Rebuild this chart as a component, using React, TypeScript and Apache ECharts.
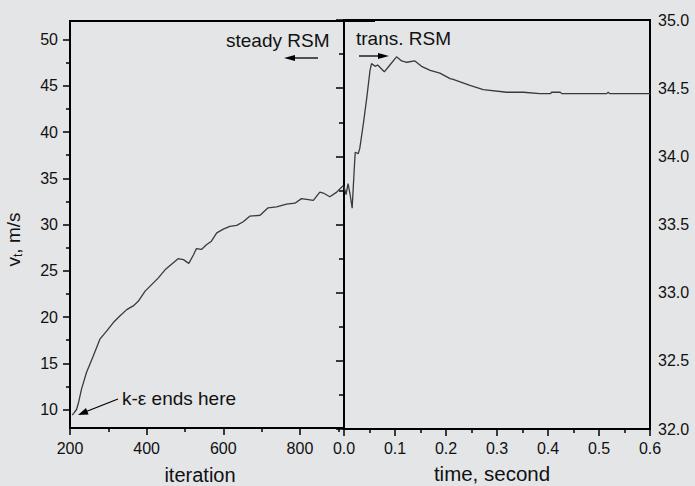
import React, { useEffect, useRef } from "react";
import * as echarts from "echarts";

// Left panel: steady RSM, iterations
const iterLeft = [206, 210, 217, 222, 230, 243, 261, 278, 296, 313, 330, 348, 365, 378, 396, 413, 430, 448, 465, 482, 496, 510, 522, 530, 543, 556, 569, 583, 600, 617, 635, 652, 669, 696, 717, 739, 765, 787, 804, 835, 852, 861, 878, 896, 908, 913];
const vLeft = [9.4, 9.6, 10.0, 10.7, 12.2, 14.0, 15.8, 17.6, 18.5, 19.4, 20.1, 20.8, 21.2, 21.7, 22.8, 23.5, 24.2, 25.1, 25.7, 26.3, 26.2, 25.8, 26.7, 27.4, 27.3, 27.8, 28.2, 29.1, 29.5, 29.8, 29.9, 30.3, 30.9, 31.0, 31.8, 31.9, 32.2, 32.3, 32.8, 32.6, 33.5, 33.4, 33.0, 33.5, 34.0, 34.2];

// Right panel: transient RSM, time in seconds
const tRight = [0, 0.004, 0.008, 0.012, 0.016, 0.02, 0.022, 0.028, 0.031, 0.038, 0.045, 0.051, 0.054, 0.061, 0.066, 0.079, 0.09, 0.103, 0.113, 0.123, 0.139, 0.152, 0.169, 0.188, 0.208, 0.214, 0.247, 0.273, 0.319, 0.352, 0.384, 0.405, 0.407, 0.424, 0.427, 0.515, 0.518, 0.521, 0.6];
const vRight = [33.78, 33.72, 33.8, 33.72, 33.62, 33.9, 34.03, 34.02, 34.06, 34.24, 34.44, 34.63, 34.68, 34.66, 34.67, 34.62, 34.67, 34.73, 34.7, 34.69, 34.7, 34.66, 34.63, 34.61, 34.57, 34.565, 34.52, 34.49, 34.47, 34.47, 34.46, 34.46, 34.47, 34.47, 34.46, 34.46, 34.47, 34.46, 34.46];

// Tick values
const iterMajor = [200, 400, 600, 800];
const iterMinor = [300, 500, 700, 900];
const timeMajor = [0, 0.1, 0.2, 0.3, 0.4, 0.5, 0.6];
const timeMinor = [0.05, 0.15, 0.25, 0.35, 0.45, 0.55];
const vLeftMajor = [10, 15, 20, 25, 30, 35, 40, 45, 50];
const vLeftMinor = [12.5, 17.5, 22.5, 27.5, 32.5, 37.5, 42.5, 47.5];
const vRightMajor = [32.0, 32.5, 33.0, 33.5, 34.0, 34.5, 35.0];
const vRightMinor = [32.25, 32.75, 33.25, 33.75, 34.25, 34.75];

const FONT = "'Liberation Sans', Arial, Helvetica, sans-serif";
const INK = "#111";

export default function App() {
  const ref = useRef<HTMLDivElement>(null);

  useEffect(() => {
    if (!ref.current) return;
    const chart = echarts.init(ref.current, null, { renderer: "svg" });

    const lbl = { color: INK, fontSize: 16, fontFamily: FONT };
    const hidden = { show: false };
    const aLine = { show: true, lineStyle: { color: "#000", width: 2 } };
    const tick = (vals: number[], len: number, inside = false) => ({
      show: true, inside, customValues: vals, length: len, lineStyle: { color: "#000", width: 1.5 },
    });

    const option: any = {
      animation: false,
      backgroundColor: "#e4e5e7",
      grid: [
        { left: 70, top: 21, width: 274, height: 407, outerBoundsMode: "none", containLabel: false, show: true, borderColor: "#000", borderWidth: 2, backgroundColor: "transparent" },
        { left: 344, top: 20, width: 306, height: 409, outerBoundsMode: "none", containLabel: false, show: true, borderColor: "#000", borderWidth: 2, backgroundColor: "transparent" },
      ],
      xAxis: [
        {
          gridIndex: 0, type: "value", min: 200, max: 915, position: "bottom",
          axisLine: aLine, splitLine: hidden,
          axisTick: tick(iterMajor, 7),
          axisLabel: { ...lbl, customValues: iterMajor, margin: 12 },
          name: "iteration", nameLocation: "middle", nameGap: 37,
          nameTextStyle: { color: INK, fontSize: 20, fontFamily: FONT, padding: [0, 14, 0, 0] },
        },
        {
          gridIndex: 0, type: "value", min: 200, max: 915, position: "bottom",
          axisLine: aLine, splitLine: hidden, axisLabel: hidden,
          axisTick: tick(iterMinor, 4),
        },
        {
          gridIndex: 1, type: "value", min: 0, max: 0.6, position: "bottom",
          axisLine: aLine, splitLine: hidden,
          axisTick: tick(timeMajor, 7),
          axisLabel: { ...lbl, customValues: timeMajor, margin: 11, formatter: (v: number) => v.toFixed(1) },
          name: "time, second", nameLocation: "middle", nameGap: 34,
          nameTextStyle: { color: INK, fontSize: 20.5, fontFamily: FONT, padding: [0, 10, 0, 0] },
        },
        {
          gridIndex: 1, type: "value", min: 0, max: 0.6, position: "bottom",
          axisLine: aLine, splitLine: hidden, axisLabel: hidden,
          axisTick: tick(timeMinor, 4),
        },
      ],
      yAxis: [
        {
          gridIndex: 0, type: "value", min: 8, max: 52, position: "left",
          axisLine: aLine, splitLine: hidden,
          axisTick: tick(vLeftMajor, 7),
          axisLabel: { ...lbl, customValues: vLeftMajor, margin: 12 },
          name: "{n|v}{s|t}{n|, m/s}", nameLocation: "middle", nameGap: 46,
          nameTextStyle: {
            color: INK, fontSize: 19, fontFamily: FONT, padding: [0, 30, 0, 0],
            rich: {
              n: { fontSize: 19, fontFamily: FONT, color: INK },
              s: { fontSize: 12, fontFamily: FONT, color: INK, verticalAlign: "bottom", padding: [10, 0, 0, 0] },
            },
          },
        },
        {
          gridIndex: 0, type: "value", min: 8, max: 52, position: "left",
          axisLine: aLine, splitLine: hidden, axisLabel: hidden,
          axisTick: tick(vLeftMinor, 4),
        },
        {
          gridIndex: 1, type: "value", min: 32, max: 35, position: "right",
          axisLine: aLine, splitLine: hidden,
          axisTick: tick(vRightMajor, 8, true),
          axisLabel: { ...lbl, customValues: vRightMajor, margin: 8, formatter: (v: number) => v.toFixed(1) },
        },
        {
          gridIndex: 1, type: "value", min: 32, max: 35, position: "right",
          axisLine: aLine, splitLine: hidden, axisLabel: hidden,
          axisTick: tick(vRightMinor, 5, true),
        },
      ],
      series: [
        {
          type: "line", xAxisIndex: 0, yAxisIndex: 0, showSymbol: false, symbol: "none",
          data: iterLeft.map((x, i) => [x, vLeft[i]]),
          lineStyle: { color: "#3a3a3a", width: 1.3 },
        },
        {
          type: "line", xAxisIndex: 2, yAxisIndex: 2, showSymbol: false, symbol: "none",
          data: tRight.map((x, i) => [x, vRight[i]]),
          lineStyle: { color: "#3a3a3a", width: 1.3 },
        },
      ],
      graphic: [
        { type: "rect", shape: { x: 343, y: 19, width: 32, height: 3 }, style: { fill: "#000" } },
        { type: "text", x: 226, y: 40, style: { text: "steady RSM", fontSize: 19, fontFamily: FONT, fill: INK, verticalAlign: "middle" } },
        { type: "line", shape: { x1: 318, y1: 58, x2: 291, y2: 58 }, style: { stroke: "#000", lineWidth: 1.3 } },
        { type: "polygon", shape: { points: [[284, 58], [295, 55], [295, 61]] }, style: { fill: "#000" } },
        { type: "text", x: 356, y: 38.5, style: { text: "trans. RSM", fontSize: 19, fontFamily: FONT, fill: INK, verticalAlign: "middle" } },
        { type: "line", shape: { x1: 359, y1: 56, x2: 382, y2: 56 }, style: { stroke: "#000", lineWidth: 1.3 } },
        { type: "polygon", shape: { points: [[389, 56], [378, 53], [378, 59]] }, style: { fill: "#000" } },
        { type: "text", x: 122, y: 398.5, style: { text: "k-ε ends here", fontSize: 19, fontFamily: FONT, fill: INK, verticalAlign: "middle" } },
        { type: "line", shape: { x1: 118, y1: 399, x2: 85, y2: 412 }, style: { stroke: "#000", lineWidth: 1.3 } },
        { type: "polygon", shape: { points: [[78, 415], [88.6, 414.5], [86.0, 408.0]] }, style: { fill: "#000" } },
      ],
    };

    chart.setOption(option);
    return () => chart.dispose();
  }, []);

  return <div ref={ref} style={{ position: "fixed", left: 0, top: 0, width: 695, height: 486 }} />;
}
